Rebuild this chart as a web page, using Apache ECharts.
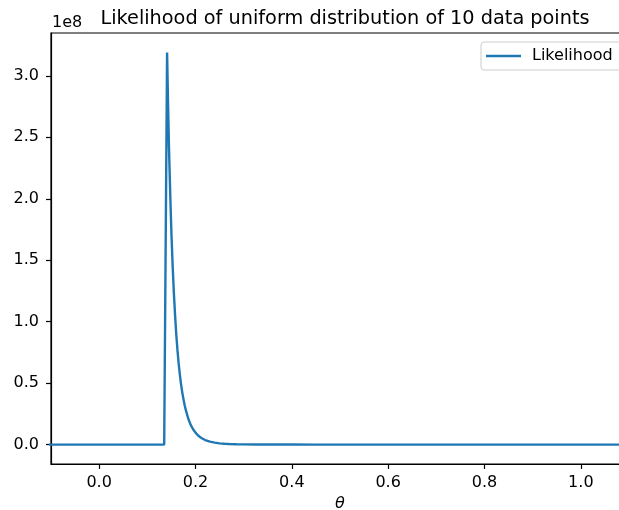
<!DOCTYPE html>
<html>
<head>
<meta charset="utf-8">
<script src="https://cdn.jsdelivr.net/npm/echarts@6/dist/echarts.min.js"></script>
<style>
  html, body { margin: 0; padding: 0; background: #fff; }
  #main { width: 619px; height: 510px; }
</style>
</head>
<body>
<div id="main"></div>
<script>
// values (theta, likelihood)
var thetaValues = [-0.2, 0.135, 0.141, 0.143, 0.145, 0.1475, 0.15, 0.1525, 0.155, 0.1575, 0.16, 0.1625, 0.165,
  0.1675, 0.17, 0.1725, 0.175, 0.1775, 0.18, 0.185, 0.19, 0.195, 0.2, 0.205, 0.21, 0.215, 0.22, 0.23, 0.24,
  0.25, 0.26, 0.27, 0.285, 0.3, 0.325, 0.35, 0.4, 0.45, 0.5, 0.7, 1.0, 1.2];
var likelihood = [0, 0, 3.19e8, 2.78e8, 2.41e8, 2.04e8, 1.72e8, 1.46e8, 1.24e8, 1.06e8, 0.90e8, 0.77e8, 0.66e8,
  0.57e8, 0.49e8, 0.425e8, 0.37e8, 0.32e8, 0.28e8, 0.21e8, 0.16e8, 0.125e8, 0.097e8, 0.076e8, 0.059e8, 0.047e8, 0.037e8, 0.024e8, 0.016e8,
  0.010e8, 0.0069e8, 0.0048e8, 0.0028e8, 0.0017e8, 0.0008e8, 0.0004e8, 0.0001e8, 0.00002e8, 0, 0, 0, 0];
var xTicks = [0.0, 0.2, 0.4, 0.6, 0.8, 1.0];
var yTicks = [0, 0.5e8, 1.0e8, 1.5e8, 2.0e8, 2.5e8, 3.0e8];

var points = thetaValues.map(function (t, i) { return [t, likelihood[i]]; });

var font = 'DejaVu Sans';
var myChart = echarts.init(document.getElementById('main'));
myChart.setOption({
  animation: false,
  backgroundColor: '#fff',
  title: {
    text: 'Likelihood of uniform distribution of 10 data points',
    left: 340,
    textAlign: 'center',
    top: 4,
    textStyle: { fontFamily: font, fontSize: 19.3, fontWeight: 'normal', color: '#000' }
  },
  legend: {
    data: ['Likelihood'],
    left: 481,
    top: 42,
    padding: [6, 20, 6, 5],
    itemWidth: 35,
    itemHeight: 2.4,
    icon: 'rect',
    borderColor: '#cccccc',
    borderWidth: 1,
    borderRadius: 3,
    backgroundColor: '#fff',
    textStyle: { fontFamily: font, fontSize: 16, lineHeight: 16, color: '#000', padding: [0, 0, 0, 6] }
  },
  graphic: [{
    type: 'text',
    left: 52,
    top: 15,
    style: { text: '1e8', fontFamily: font, fontSize: 16, fill: '#000' }
  }],
  grid: {
    left: 51,
    top: 33,
    right: -10,
    bottom: 46,
    outerBoundsMode: 'none',
    containLabel: false,
    show: true,
    borderColor: '#000',
    borderWidth: 1.2,
    backgroundColor: 'transparent'
  },
  xAxis: {
    type: 'value',
    min: -0.1,
    max: 1.1,
    name: 'θ',
    nameLocation: 'middle',
    nameGap: 32,
    nameTextStyle: { fontFamily: font, fontSize: 16, fontStyle: 'italic', color: '#000' },
    splitLine: { show: false },
    axisLine: { show: true, onZero: false, lineStyle: { color: '#000', width: 1.2 } },
    axisTick: { show: true, length: 5, customValues: xTicks, lineStyle: { color: '#000', width: 1.2 } },
    axisLabel: {
      customValues: xTicks,
      margin: 11,
      fontFamily: font, fontSize: 16, color: '#000',
      formatter: function (v) { return v.toFixed(1); }
    }
  },
  yAxis: {
    type: 'value',
    min: -0.158e8,
    max: 3.349e8,
    splitLine: { show: false },
    axisLine: { show: true, onZero: false, lineStyle: { color: '#000', width: 1.2 } },
    axisTick: { show: true, length: 5, customValues: yTicks, lineStyle: { color: '#000', width: 1.2 } },
    axisLabel: {
      customValues: yTicks,
      margin: 12,
      fontFamily: font, fontSize: 16, color: '#000',
      formatter: function (v) { return (v / 1e8).toFixed(1); }
    }
  },
  series: [{
    name: 'Likelihood',
    type: 'line',
    data: points,
    symbol: 'none',
    clip: true,
    color: '#1f77b4',
    lineStyle: { color: '#1f77b4', width: 2.4 }
  }]
});
</script>
</body>
</html>
